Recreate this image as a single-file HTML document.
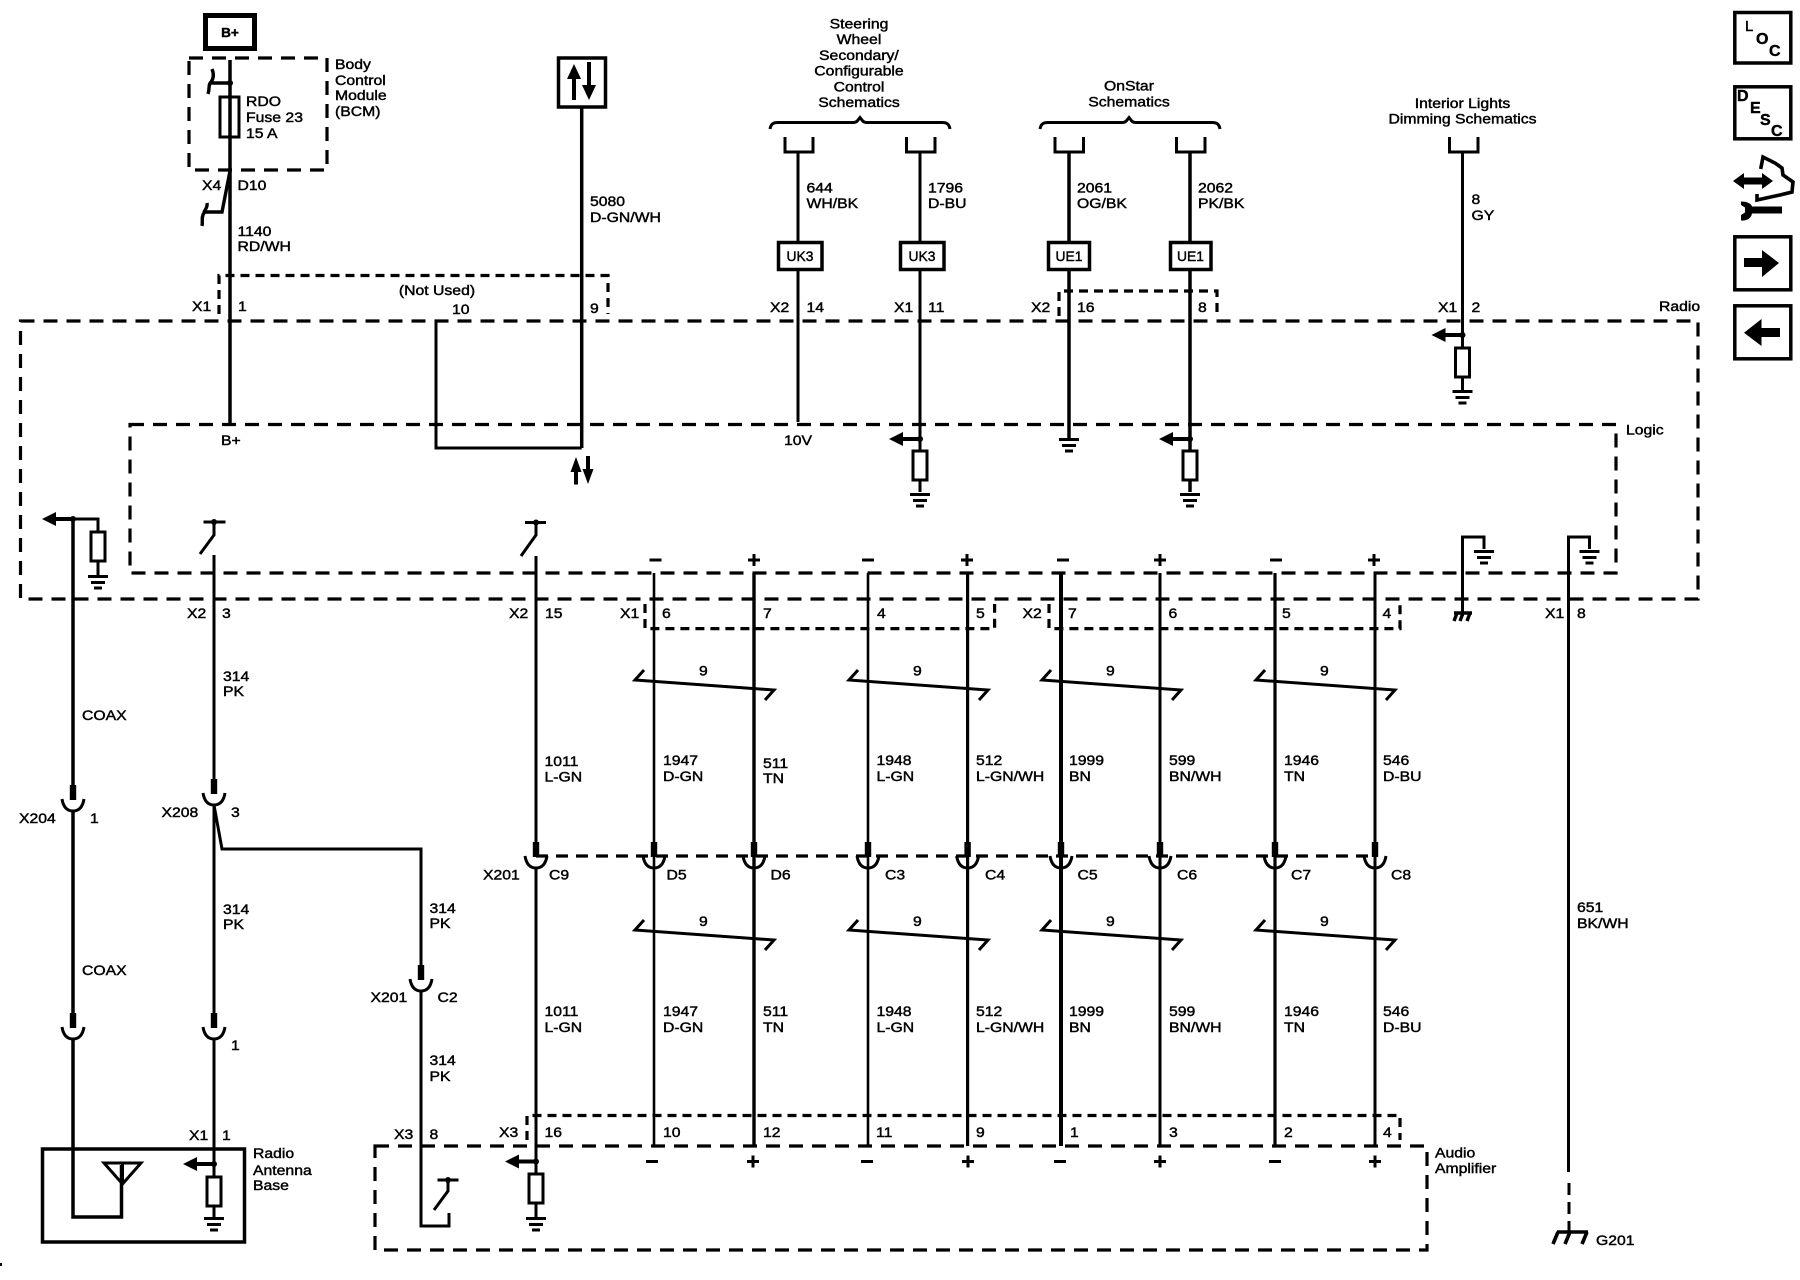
<!DOCTYPE html>
<html><head><meta charset="utf-8"><title>Radio schematic</title>
<style>
html,body{margin:0;padding:0;background:#fff}
svg{display:block}
text{font-family:"Liberation Sans",sans-serif;font-size:13.6px;fill:#000;stroke:#000;stroke-width:.42px;transform-box:fill-box;transform-origin:0 50%;transform:scaleX(1.16)}
text.m{text-anchor:middle;transform-origin:50% 50%}
.w{fill:none;stroke:#000;stroke-width:3;stroke-linejoin:miter}
.d{fill:none;stroke:#000;stroke-width:3.2;stroke-dasharray:14 9}
.s{fill:none;stroke:#000;stroke-width:3.2;stroke-dasharray:9 6}
.b{fill:#fff;stroke:#000;stroke-width:3.5}
.n{fill:none;stroke:#000;stroke-width:3.5}
</style></head><body>
<svg width="1800" height="1280" viewBox="0 0 1800 1280" xmlns="http://www.w3.org/2000/svg">
<defs>
<g id="gnd"><path d="M-10 1.5H10M-7 7.5H7M-4 13H4" stroke="#000" stroke-width="3" fill="none"/></g>
<g id="fuse"><rect x="-7" y="0" width="14" height="29" fill="#fff" stroke="#000" stroke-width="3"/></g>
<g id="conn"><rect x="-3.2" y="0" width="6.4" height="15" fill="#000"/><path d="M-11 14Q-9 26 0 26Q9 26 11 14" fill="none" stroke="#000" stroke-width="3"/></g>
<g id="la"><path d="M-31 0L-17 -7V-2H0V2H-17V7Z" fill="#000"/><circle r="3" fill="#000"/></g>
<g id="tw"><path d="M9 -10L0 0L139 10L130 20" fill="none" stroke="#000" stroke-width="3"/></g>
</defs>

<!-- dashed module boxes -->
<rect class="d" x="189" y="58" width="138" height="112"/>
<rect class="d" x="20.5" y="321" width="1677.5" height="278"/>
<rect class="d" x="130" y="424.5" width="1486" height="148.5"/>
<rect class="d" x="375" y="1146" width="1052" height="104"/>
<path class="s" d="M219 314V275.500H608V314"/>
<path class="s" d="M1059 316V291H1217V316"/>
<path class="s" d="M645 604V628.600H994.600V604"/>
<path class="s" d="M1049 604V628.600H1400V604"/>
<path class="s" d="M527 1140V1115.500H1400V1140"/>
<path class="d" d="M536 856H1375" style="stroke-dasharray:12 8"/>

<!-- B+ -->
<rect x="205.500" y="15.500" width="49" height="33" fill="#fff" stroke="#000" stroke-width="5"/>
<text class="m" x="230" y="37" style="font-weight:bold;font-size:13px;transform:scaleX(1.05)">B+</text>

<!-- BCM wire -->
<path class="w" style="stroke-width:3.5" d="M230 60V424"/>
<rect x="220" y="97" width="19" height="40" fill="none" stroke="#000" stroke-width="3"/>
<circle cx="230" cy="83" r="3" fill="#000"/>
<path class="w" style="stroke-width:3.4" d="M230 83H210M212 69C214 74 214 78 211 82C208 85 210 88 208 94"/>
<path class="w" style="stroke-width:3.4" d="M230 171L222 212H205M207 203C208 208 204 210 204 213C201 217 203 221 202 226"/>

<!-- 5080 -->
<rect x="558.500" y="58" width="47" height="49" fill="#fff" stroke="#000" stroke-width="3.500"/>
<path d="M574 64L581 79H576V100H572V79H567Z" fill="#000"/>
<path d="M589 100L582 85H587V62H591V85H596Z" fill="#000"/>
<path class="w" style="stroke-width:3.500" d="M581.700 107V448"/>
<path class="w" d="M436 321V448H581.700"/>
<path d="M576 457L581.500 472H578V484.500H574V472H570.500Z" fill="#000"/>
<path d="M588 484L582.500 469H586V456H590V469H593.500Z" fill="#000"/>

<!-- caps and braces -->
<path class="w" d="M770 129C771 124 773 122.500 778 122.500H854C857 122.500 858 120 860 117.500C862 120 863 122.500 866 122.500H942C947 122.500 949 124 950 129"/>
<path class="w" d="M1040 129C1041 124 1043 122.500 1048 122.500H1123C1126 122.500 1127 120 1129 117.500C1131 120 1132 122.500 1135 122.500H1212C1217 122.500 1219 124 1220 129"/>
<path class="w" d="M785 137V152H813V137M906.500 137V152H935V137M1055 137V152H1083.500V137M1176.500 137V152H1205V137M1449.500 137V152H1478V137"/>
<path class="w" d="M798 152V422M920 152V451M920 480V492"/>
<path class="w" style="stroke-width:3.500" d="M1069 152V438M1190 152V451M1190 480V492"/>
<path class="w" d="M1462.500 152V347M1462.500 377V390"/>
<rect class="b" x="778.500" y="242.500" width="43.500" height="27"/>
<rect class="b" x="900.500" y="242.500" width="43.500" height="27"/>
<rect class="b" x="1048.500" y="242.500" width="41" height="27"/>
<rect class="b" x="1170.500" y="242.500" width="40.500" height="27"/>
<use href="#la" x="920" y="439"/><use href="#fuse" x="920" y="451"/><use href="#gnd" x="920" y="493"/>
<use href="#la" x="1190" y="439"/><use href="#fuse" x="1190" y="451"/><use href="#gnd" x="1190" y="493"/>
<use href="#gnd" x="1069" y="438"/>
<use href="#la" x="1462.500" y="335"/><use href="#fuse" x="1462.500" y="348"/><use href="#gnd" x="1462.500" y="390"/>

<!-- COAX / antenna -->
<use href="#la" x="73" y="519"/>
<path d="M43 519L56 513V525Z" fill="#000"/>
<path class="w" d="M73 519H98V532M98 561V575"/>
<use href="#fuse" x="98" y="532"/><use href="#gnd" x="98" y="575"/>
<path class="w" style="stroke-width:3.500" d="M73 519V785M73 811V1013M73 1038V1217H121.500V1165"/>
<use href="#conn" x="73" y="785"/><use href="#conn" x="73" y="1013"/>
<path class="w" d="M104 1163H141L122.500 1184ZM122.500 1163V1184"/>
<rect x="42.500" y="1149" width="202" height="93" fill="none" stroke="#000" stroke-width="3.500"/>

<!-- 314 -->
<path class="w" d="M203.500 522H225.500M214 522V535L200 554"/><circle cx="214" cy="522" r="3" fill="#000"/>
<path class="w" d="M214 555V780M214 805V1013M214 1038V1177M214 1206V1217"/>
<use href="#conn" x="214" y="779"/><use href="#conn" x="214" y="1013"/>
<use href="#la" x="214" y="1164"/><use href="#fuse" x="214" y="1177"/><use href="#gnd" x="214" y="1217"/>
<path class="w" d="M214 805L222 849H421V965M421 990V1226H449V1213"/>
<use href="#conn" x="421" y="965"/>
<path class="w" d="M437.500 1180H458.500M448 1180V1191L434 1210"/><circle cx="448" cy="1180" r="3" fill="#000"/>

<!-- 1011 -->
<path class="w" d="M525 522.500H546M536 522.500V535L521 556"/><circle cx="536" cy="522.500" r="3" fill="#000"/>
<path class="w" d="M536 556V845M536 868V1173M536 1203V1217"/>
<use href="#conn" x="536" y="842"/>
<use href="#la" x="536" y="1161.500"/><use href="#fuse" x="536" y="1174"/><use href="#gnd" x="536" y="1217"/>

<!-- speaker wires -->
<g class="w">
<path class="w" style="stroke-width:2.600" d="M654 573V1146"/>
<path class="w" style="stroke-width:3.400" d="M754 573V1146"/>
<path class="w" style="stroke-width:2.600" d="M868 573V1146"/>
<path class="w" style="stroke-width:3.200" d="M967.600 573V1146"/>
<path class="w" style="stroke-width:4" d="M1061 573V1146"/>
<path class="w" style="stroke-width:3" d="M1160 573V1146"/>
<path class="w" style="stroke-width:3.200" d="M1275 573V1146"/>
<path class="w" style="stroke-width:3" d="M1375 573V1146"/>
</g>
<use href="#conn" x="654" y="842"/><use href="#conn" x="754" y="842"/><use href="#conn" x="868" y="842"/><use href="#conn" x="967.600" y="842"/>
<use href="#conn" x="1061" y="842"/><use href="#conn" x="1160" y="842"/><use href="#conn" x="1275" y="842"/><use href="#conn" x="1375" y="842"/>
<use href="#tw" x="635" y="680"/><use href="#tw" x="849" y="680"/><use href="#tw" x="1042" y="680"/><use href="#tw" x="1256" y="680"/>
<use href="#tw" x="635" y="930"/><use href="#tw" x="849" y="930"/><use href="#tw" x="1042" y="930"/><use href="#tw" x="1256" y="930"/>

<!-- polarity marks -->
<path class="w" d="M649.500 560H661.500M862 560H874M1057 560H1069M1270 560H1282"/>
<path class="w" d="M748 560H760M754 554V566M961 560H973M967 554V566M1154 560H1166M1160 554V566M1368 560H1380M1374 554V566"/>
<path class="w" d="M646 1161.500H658M861 1161.500H873M1054 1161.500H1066M1269 1161.500H1281"/>
<path class="w" d="M747 1161.500H759M753 1155.500V1167.500M962 1161.500H974M968 1155.500V1167.500M1154 1161.500H1166M1160 1155.500V1167.500M1369 1161.500H1381M1375 1155.500V1167.500"/>

<!-- right grounds -->
<path class="w" d="M1462.500 616V537H1484V549"/><use href="#gnd" x="1484" y="550"/>
<path class="w" style="stroke-width:3.400" d="M1454 613H1472M1457 613L1454 621M1463 613L1460 621M1470 613L1467 621"/>
<path class="w" d="M1568.500 1172V537H1589.500V549"/><use href="#gnd" x="1589.500" y="550"/>
<path class="w" d="M1569 1183V1232" style="stroke-dasharray:12 7" />
<path class="w" style="stroke-width:3.600" d="M1557 1232H1588M1558 1232L1553 1244M1570 1232L1565 1244M1587 1232L1582 1244"/>

<!-- right icons -->
<rect class="n" x="1734.800" y="12.500" width="56" height="50.500"/>
<rect class="n" x="1734.800" y="86.800" width="56" height="52"/>
<rect class="n" x="1734.800" y="236.800" width="56" height="53"/>
<rect class="n" x="1734.800" y="305.800" width="56" height="53"/>
<text x="1745" y="31" style="font-size:15px;transform:none">L</text>
<text x="1756" y="44" style="font-size:16px;font-weight:bold;transform:none">O</text>
<text x="1769" y="56" style="font-size:16px;font-weight:bold;transform:none">C</text>
<text x="1737" y="101" style="font-size:16px;font-weight:bold;transform:none">D</text>
<text x="1750" y="113" style="font-size:16px;font-weight:bold;transform:none">E</text>
<text x="1760" y="125" style="font-size:16px;font-weight:bold;transform:none">S</text>
<text x="1771" y="136" style="font-size:16px;font-weight:bold;transform:none">C</text>
<path d="M1733 181L1744 173V177.500H1762V173L1773 181L1762 189V184.500H1744V189Z" fill="#000"/>
<path d="M1760.700 169L1763 157L1775 163L1782 168L1783 175L1793 182L1792 192L1780 195L1757 200V194" fill="none" stroke="#000" stroke-width="3.600"/>
<path d="M1752 206.500H1782V213.500H1752C1751 219 1746 221 1741 220.500V215L1745 212.500V207.500L1741 205V201.500C1746 201.500 1751 203 1752 206.500Z" fill="#000"/>
<path d="M1744 258H1762V250L1779 263L1762 277V267H1744Z" fill="#000"/>
<path d="M1780 328H1761.500V319L1744 332.700L1761.500 346V337H1780Z" fill="#000"/>
<rect x="0" y="1263" width="2" height="3" fill="#000"/>

<!-- labels -->
<text x="246" y="106">RDO</text><text x="246" y="122">Fuse 23</text><text x="246" y="138">15 A</text>
<text x="335" y="69">Body</text><text x="335" y="85">Control</text><text x="335" y="100">Module</text><text x="335" y="116">(BCM)</text>
<text x="202" y="190">X4</text><text x="237.500" y="190">D10</text>
<text x="237.500" y="236">1140</text><text x="237.500" y="251">RD/WH</text>
<text x="590" y="206">5080</text><text x="590" y="222">D-GN/WH</text>
<text class="m" x="437" y="295">(Not Used)</text>
<text x="192" y="311">X1</text><text x="238" y="311">1</text><text x="452" y="314">10</text><text x="590" y="313">9</text>
<text x="221" y="445">B+</text>

<text class="m" x="859" y="28.500">Steering</text><text class="m" x="859" y="44">Wheel</text><text class="m" x="859" y="60">Secondary/</text><text class="m" x="859" y="75.500">Configurable</text><text class="m" x="859" y="91.500">Control</text><text class="m" x="859" y="107">Schematics</text>
<text class="m" x="1129" y="90.500">OnStar</text><text class="m" x="1129" y="106.500">Schematics</text>
<text class="m" x="1462.500" y="108">Interior Lights</text><text class="m" x="1462.500" y="123.500">Dimming Schematics</text>

<text x="806.500" y="192.500">644</text><text x="806.500" y="208">WH/BK</text>
<text x="928" y="192.500">1796</text><text x="928" y="208">D-BU</text>
<text x="1077" y="192.500">2061</text><text x="1077" y="208">OG/BK</text>
<text x="1198" y="192.500">2062</text><text x="1198" y="208">PK/BK</text>
<text x="1471.500" y="204">8</text><text x="1471.500" y="220">GY</text>
<text class="m" x="800" y="261" style="transform:scaleX(1.02)">UK3</text><text class="m" x="922" y="261" style="transform:scaleX(1.02)">UK3</text><text class="m" x="1069" y="261" style="transform:scaleX(1.02)">UE1</text><text class="m" x="1190.500" y="261" style="transform:scaleX(1.02)">UE1</text>
<text x="770" y="312">X2</text><text x="806.500" y="312">14</text><text x="894" y="312">X1</text><text x="928" y="312">11</text>
<text x="1031" y="312">X2</text><text x="1077" y="312">16</text><text x="1198" y="312">8</text>
<text x="1438" y="312">X1</text><text x="1471.500" y="312">2</text>
<text x="1659" y="311">Radio</text><text x="1626" y="434.500">Logic</text><text x="784" y="445">10V</text>

<text x="187" y="618">X2</text><text x="222" y="618">3</text><text x="509" y="618">X2</text><text x="545" y="618">15</text>
<text x="620" y="618">X1</text><text x="662" y="618">6</text><text x="763" y="618">7</text><text x="877" y="618">4</text><text x="976" y="618">5</text>
<text x="1022.500" y="618">X2</text><text x="1068" y="618">7</text><text x="1168.500" y="618">6</text><text x="1282" y="618">5</text><text x="1382.500" y="618">4</text>
<text x="1545" y="618">X1</text><text x="1577" y="618">8</text>

<text x="82" y="720">COAX</text><text x="82" y="975">COAX</text>
<text x="19" y="823">X204</text><text x="90" y="823">1</text>
<text x="223" y="681">314</text><text x="223" y="696">PK</text>
<text x="161.500" y="817">X208</text><text x="231" y="817">3</text>
<text x="223" y="914">314</text><text x="223" y="929">PK</text>
<text x="231" y="1050">1</text>
<text x="429.500" y="913">314</text><text x="429.500" y="928">PK</text>
<text x="370.500" y="1002">X201</text><text x="437.500" y="1002">C2</text>
<text x="429.500" y="1065">314</text><text x="429.500" y="1081">PK</text>
<text x="189" y="1140">X1</text><text x="222" y="1140">1</text>
<text x="253" y="1158">Radio</text><text x="253" y="1175">Antenna</text><text x="253" y="1190">Base</text>
<text x="394" y="1139">X3</text><text x="429.500" y="1139">8</text><text x="499" y="1137">X3</text><text x="544.500" y="1137">16</text>

<text x="544.500" y="766">1011</text><text x="544.500" y="781.500">L-GN</text>
<text x="663" y="765">1947</text><text x="663" y="781">D-GN</text>
<text x="763" y="768">511</text><text x="763" y="783">TN</text>
<text x="876.500" y="765">1948</text><text x="876.500" y="781">L-GN</text>
<text x="976" y="765">512</text><text x="976" y="781">L-GN/WH</text>
<text x="1069" y="765">1999</text><text x="1069" y="781">BN</text>
<text x="1169" y="765">599</text><text x="1169" y="781">BN/WH</text>
<text x="1284" y="765">1946</text><text x="1284" y="781">TN</text>
<text x="1383" y="765">546</text><text x="1383" y="781">D-BU</text>

<text x="483" y="879.500">X201</text><text x="549" y="879.500">C9</text>
<text x="666.500" y="879.500">D5</text><text x="770.500" y="879.500">D6</text><text x="885" y="879.500">C3</text><text x="985" y="879.500">C4</text>
<text x="1077.500" y="879.500">C5</text><text x="1177" y="879.500">C6</text><text x="1291" y="879.500">C7</text><text x="1391" y="879.500">C8</text>

<text x="544.500" y="1016">1011</text><text x="544.500" y="1032">L-GN</text>
<text x="663" y="1016">1947</text><text x="663" y="1032">D-GN</text>
<text x="763" y="1016">511</text><text x="763" y="1032">TN</text>
<text x="876.500" y="1016">1948</text><text x="876.500" y="1032">L-GN</text>
<text x="976" y="1016">512</text><text x="976" y="1032">L-GN/WH</text>
<text x="1069" y="1016">1999</text><text x="1069" y="1032">BN</text>
<text x="1169" y="1016">599</text><text x="1169" y="1032">BN/WH</text>
<text x="1284" y="1016">1946</text><text x="1284" y="1032">TN</text>
<text x="1383" y="1016">546</text><text x="1383" y="1032">D-BU</text>

<text x="699" y="675.500">9</text><text x="913" y="675.500">9</text><text x="1106" y="675.500">9</text><text x="1320" y="675.500">9</text>
<text x="699" y="926">9</text><text x="913" y="926">9</text><text x="1106" y="926">9</text><text x="1320" y="926">9</text>

<text x="663" y="1137">10</text><text x="763" y="1137">12</text><text x="876" y="1137">11</text><text x="976" y="1137">9</text>
<text x="1070" y="1137">1</text><text x="1169" y="1137">3</text><text x="1284" y="1137">2</text><text x="1383" y="1137">4</text>
<text x="1435" y="1157.500">Audio</text><text x="1435" y="1173">Amplifier</text>
<text x="1577" y="912">651</text><text x="1577" y="928">BK/WH</text>
<text x="1596" y="1245">G201</text>
</svg>
</body></html>
